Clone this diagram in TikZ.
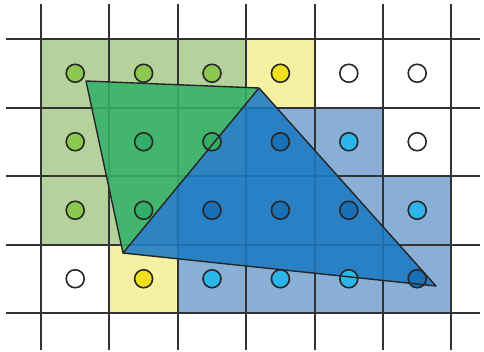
\documentclass[tikz,border=0pt]{standalone}
\usepackage{xcolor}
\usepackage{tikz}
\definecolor{cellg}{HTML}{B6D29C}
\definecolor{celly}{HTML}{F5F0A2}
\definecolor{cellb}{HTML}{8AAFD6}
\definecolor{cellw}{HTML}{FFFFFF}
\definecolor{dotg}{HTML}{8CC850}
\definecolor{doty}{HTML}{F0E020}
\definecolor{dotb}{HTML}{2CB5EA}
\definecolor{dotw}{HTML}{FFFFFF}
\definecolor{dotG}{HTML}{34AE66}
\definecolor{dotB}{HTML}{1A70B6}
\definecolor{trigreen}{HTML}{35B168}
\definecolor{triblue}{HTML}{1C7AC3}

\begin{document}
\begin{tikzpicture}[x=0.02cm, y=-0.02cm,
    gridline/.style={line width=1.1pt, draw=black!80},
    sample/.style={circle, draw=black!85, line width=0.9pt,
                   minimum size=0.36cm, inner sep=0pt},
    tri/.style={draw=black!85, line width=0.8pt, line join=round}
]
\useasboundingbox (0,0) rectangle (484,352);
% covered cells
\foreach \c/\r/\k in {0/0/g, 1/0/g, 2/0/g, 3/0/y, 4/0/w, 5/0/w,
                      0/1/g, 1/1/g, 2/1/g, 3/1/b, 4/1/b, 5/1/w,
                      0/2/g, 1/2/g, 2/2/b, 3/2/b, 4/2/b, 5/2/b,
                      0/3/w, 1/3/y, 2/3/b, 3/3/b, 4/3/b, 5/3/b}
  \fill[cell\k] (41+68.4*\c, 39+68.5*\r) rectangle ++(68.4, 68.5);
% grid
\foreach \x in {41,109,178,246,315,383,451}
  \draw[gridline] (\x, 4) -- (\x, 350);
\foreach \y in {39,108,176,245,313}
  \draw[gridline] (6, \y) -- (480, \y);
% triangles
\coordinate (p1) at (86,81);
\coordinate (p2) at (259,88);
\coordinate (p3) at (123,253);
\coordinate (p4) at (436,286);
\fill[trigreen, fill opacity=0.88] (p1) -- (p2) -- (p3) -- cycle;
\fill[triblue, fill opacity=0.88] (p2) -- (p4) -- (p3) -- cycle;
% sample points
\foreach \c/\r/\k in {0/0/g, 1/0/g, 2/0/g, 3/0/y, 4/0/w, 5/0/w,
                      0/1/g, 1/1/G, 2/1/G, 3/1/B, 4/1/b, 5/1/w,
                      0/2/g, 1/2/G, 2/2/B, 3/2/B, 4/2/B, 5/2/b,
                      0/3/w, 1/3/y, 2/3/b, 3/3/b, 4/3/b, 5/3/B}
  \node[sample, fill=dot\k] (s-\c-\r) at (75.2+68.4*\c, 73.25+68.5*\r) {};
\draw[tri] (p1) -- (p2) -- (p3) -- cycle;
\draw[tri] (p2) -- (p4) -- (p3);
\end{tikzpicture}
\end{document}
